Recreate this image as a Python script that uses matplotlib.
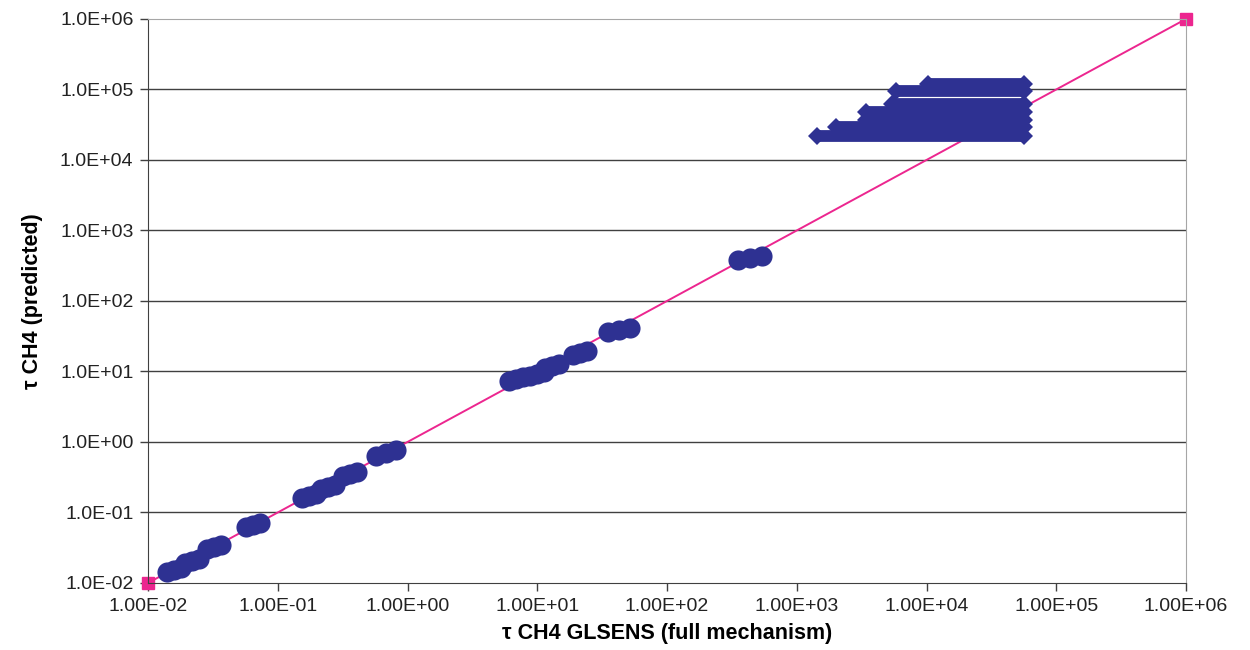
import matplotlib.pyplot as plt
from matplotlib.ticker import FixedLocator, NullLocator

plt.rcParams['font.family'] = ['Liberation Sans', 'DejaVu Sans']

# decade ticks and their labels (x and y use different formats)
decades = [1e-2, 1e-1, 1e0, 1e1, 1e2, 1e3, 1e4, 1e5, 1e6]
x_tick_labels = ['1.00E-02', '1.00E-01', '1.00E+00', '1.00E+01', '1.00E+02',
                 '1.00E+03', '1.00E+04', '1.00E+05', '1.00E+06']
y_tick_labels = ['1.0E-02', '1.0E-01', '1.0E+00', '1.0E+01', '1.0E+02',
                 '1.0E+03', '1.0E+04', '1.0E+05', '1.0E+06']

# 1:1 reference line
diag_x = [1e-2, 1e6]
diag_y = [1e-2, 1e6]

# clusters of points along the diagonal (tau GLSENS vs tau predicted)
tau_full = [
    0.0140, 0.0158, 0.0179,
    0.0193, 0.0218, 0.0247,
    0.0285, 0.0323, 0.0366,
    0.0569, 0.0644, 0.0729,
    0.154, 0.174, 0.197,
    0.216, 0.244, 0.276,
    0.319, 0.361, 0.409,
    0.571, 0.682, 0.814,
    6.06, 6.86, 7.77,
    8.79, 9.95, 11.3,
    11.5, 13.0, 14.7,
    18.8, 21.3, 24.1,
    35.1, 42.7, 51.9,
    353, 437, 541,
]
tau_pred = [
    0.0143, 0.0153, 0.0163,
    0.0192, 0.0205, 0.0219,
    0.0304, 0.0324, 0.0346,
    0.0623, 0.0665, 0.0710,
    0.160, 0.171, 0.182,
    0.216, 0.230, 0.245,
    0.330, 0.352, 0.376,
    0.635, 0.698, 0.768,
    7.34, 7.83, 8.35,
    8.65, 9.23, 9.85,
    11.2, 12.0, 12.8,
    17.2, 18.3, 19.5,
    36.4, 38.8, 41.4,
    381, 407, 434,
]

# dense cloud at the top right, read as rows of points (predicted value, GLSENS range)
band_pred = [1.2e5, 9.5e4, 6.2e4, 4.8e4, 3.7e4, 2.9e4, 2.2e4]
band_x_start = [1.03e4, 5.8e3, 5.4e3, 3.4e3, 3.4e3, 2.0e3, 1.43e3]
band_x_end = [5.6e4, 5.6e4, 5.6e4, 5.6e4, 5.6e4, 5.6e4, 5.6e4]

blue = '#2E3192'
pink = '#EC268F'

fig = plt.figure(figsize=(12.5, 6.5), dpi=100)
ax = fig.add_axes([0.1184, 0.1031, 0.8304, 0.8677])
ax.set_xscale('log')
ax.set_yscale('log')
ax.set_xlim(1e-2, 1e6)
ax.set_ylim(1e-2, 1e6)

# horizontal grid lines at inner decades
for v in decades[1:-1]:
    ax.axhline(v, color='#404040', lw=1, zorder=1)

ax.plot(diag_x, diag_y, color=pink, lw=1.4, marker='s', markersize=8,
        clip_on=False, zorder=2)

ax.plot(tau_full, tau_pred, linestyle='none', marker='o', markersize=14.5,
        color=blue, markeredgewidth=0, zorder=3)

for yv, x0, x1 in zip(band_pred, band_x_start, band_x_end):
    ax.plot([x0, x1], [yv, yv], color=blue, lw=8.5, solid_capstyle='butt',
            marker='D', markersize=9, markeredgewidth=0, zorder=3)

ax.xaxis.set_major_locator(FixedLocator(decades))
ax.yaxis.set_major_locator(FixedLocator(decades))
ax.xaxis.set_minor_locator(NullLocator())
ax.yaxis.set_minor_locator(NullLocator())
ax.set_xticklabels(x_tick_labels)
ax.set_yticklabels(y_tick_labels)
ax.tick_params(axis='both', direction='out', length=6, width=1, color='#404040',
               labelsize=14, labelcolor='#222222', pad=4.5)

for side in ['left', 'bottom']:
    ax.spines[side].set_color('#404040')
for side in ['top', 'right']:
    ax.spines[side].set_color('#A6A6A6')

ax.set_xlabel('τ CH4 GLSENS (full mechanism)', fontsize=15.5, fontweight='bold',
              labelpad=6)
ax.set_ylabel('τ CH4 (predicted)', fontsize=15.5, fontweight='bold', labelpad=12)

fig.savefig('out.png', dpi=100)
